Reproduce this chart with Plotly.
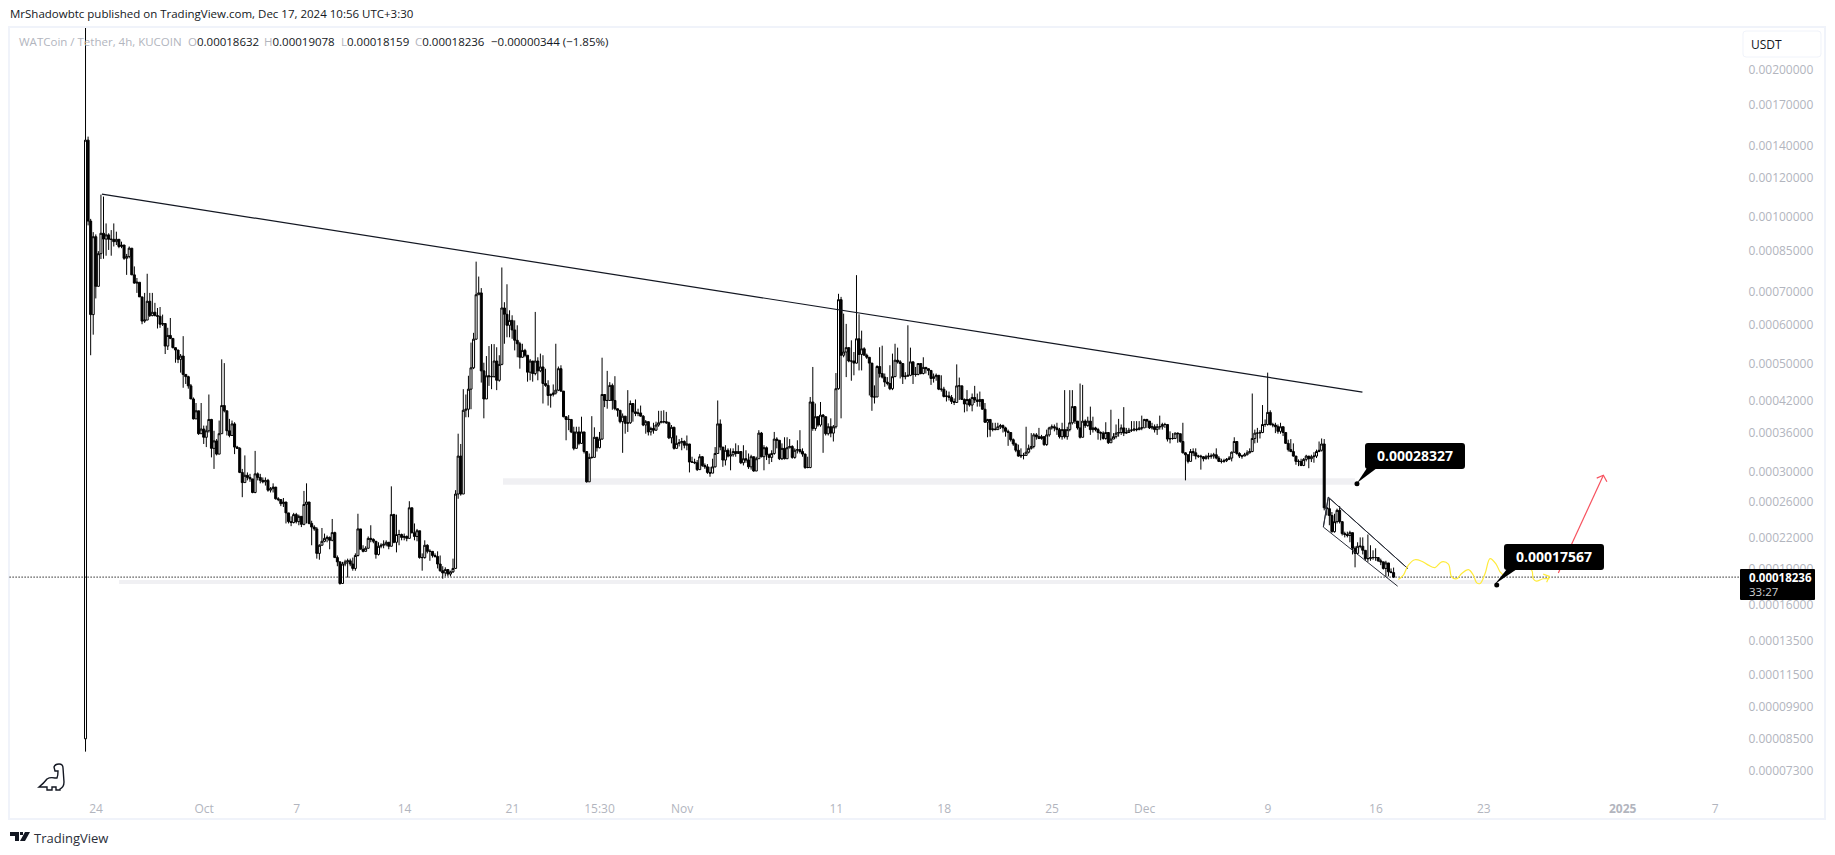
import pandas as pd
import plotly.graph_objects as go

# ---------- price data, in units of 0.00001 USDT, one row per ten 4h bars ----------
first_open_e5 = 8.5
closes_e5 = [
143.6,98,63,91,72,84,92.5,90,91.8,89.9,
89.9,88.9,89.9,86.9,87.5,82.2,82.9,86.2,76.0,73.1,
73.4,68.5,61.1,61.4,67.1,62.7,63.7,62.7,62.5,60.2,
60.4,54.3,57.1,56.3,53.9,53.3,51.0,51.8,47.5,47.0,
45.0,42.3,38.5,40.0,35.9,36.7,35.3,36.4,38.4,33.5,
34.7,32.6,35.9,41.0,40.0,36.4,35.6,37.6,33.7,33.5,
29.9,28.5,29.5,29.2,29.0,27.2,29.7,29.2,28.8,28.6,
28.8,27.5,27.7,27.9,26.4,26.3,25.8,26.0,24.7,23.7,
23.6,24.5,23.7,24.3,23.4,25.7,26.0,23.5,23.1,22.9,
20.4,21.2,21.6,21.9,22.0,21.7,22.5,20.0,19.6,17.7,
19.4,19.6,19.7,19.4,19.0,20.2,22.9,20.8,20.6,20.9,
21.9,21.8,21.6,20.3,21.1,21.2,21.3,21.5,21.1,24.5,
21.5,22.3,22.3,22.0,22.1,21.9,25.3,22.5,22.1,22.7,
20.0,20.0,21.2,20.6,20.6,20.2,20.1,19.4,18.8,18.6,
18.9,18.5,18.7,19.0,27.0,32.3,27.0,40.1,40.3,44.3,
49.0,56.1,69.2,69.8,48.3,42.3,47.2,47.0,47.0,50.6,
46.2,49.8,65.0,63.1,59.9,61.3,58.6,55.8,54.9,51.5,
53.2,52.0,48.0,50.6,47.7,50.6,48.3,49.2,45.5,45.1,
43.0,43.2,43.5,44.1,48.8,43.9,38.9,38.4,38.4,36.2,
33.5,36.2,34.3,36.2,33.0,28.6,32.1,32.1,35.3,33.6,
35.0,43.2,42.0,42.0,45.1,42.0,40.4,40.1,38.0,39.0,
37.7,37.8,41.4,39.8,39.5,39.6,39.0,37.4,38.0,36.2,
36.8,36.5,37.4,37.8,38.0,38.0,37.8,35.2,37.0,33.5,
34.3,34.4,34.6,34.0,34.2,31.4,31.4,31.3,30.3,32.2,
30.9,30.7,29.9,29.8,30.7,32.7,37.6,33.7,31.7,33.2,
32.3,32.5,33.0,32.7,33.0,31.3,31.9,31.7,30.7,32.2,
30.1,31.9,36.0,32.2,33.6,32.5,32.1,32.7,35.0,34.8,
31.9,33.5,31.9,33.6,33.8,32.1,33.2,33.3,33.0,32.6,
30.6,30.6,41.7,36.8,38.9,37.4,39.2,38.9,35.9,37.1,
36.0,37.1,44.4,67.6,52.0,52.8,53.9,50.6,50.6,50.1,
56.2,52.2,53.6,52.0,51.5,50.1,42.7,42.7,49.3,47.7,
46.9,45.8,45.5,44.4,47.0,50.8,50.4,50.0,47.0,47.1,
47.3,50.4,47.5,47.5,50.0,47.7,49.1,48.8,48.4,46.6,
47.0,47.3,44.3,44.3,42.8,42.9,42.6,41.8,41.6,45.0,
45.0,42.2,41.3,42.2,41.1,42.6,42.1,41.8,42.2,40.3,
37.9,38.4,36.6,36.7,36.6,37.1,37.3,36.9,36.3,36.1,
34.9,34.2,33.2,32.3,32.4,32.4,32.9,33.5,33.8,35.7,
35.4,35.1,35.4,34.1,35.7,36.9,37.1,36.9,36.6,35.4,
36.6,35.4,36.6,37.8,40.8,38.1,36.9,35.3,38.1,37.3,
38.1,36.6,36.9,36.6,36.1,36.0,35.1,36.1,34.4,35.0,
35.4,36.0,36.1,36.9,36.0,36.1,36.5,36.5,36.7,36.6,
36.9,36.9,38.4,38.1,36.9,37.1,36.6,37.1,37.1,37.5,
37.5,35.0,35.1,35.1,36.0,35.9,34.6,32.8,32.5,31.5,
33.0,32.8,32.3,32.3,32.2,31.9,32.2,32.3,32.3,32.5,
32.0,31.5,31.5,31.6,31.8,32.0,32.9,34.6,32.7,32.3,
32.3,32.5,32.8,33.0,35.1,36.0,36.0,36.1,37.5,37.5,
39.7,37.5,37.4,37.1,36.3,37.1,36.1,34.3,33.3,33.0,
32.3,31.5,31.5,30.9,31.8,32.3,31.9,32.2,32.3,33.0,
33.2,34.2,25.3,25.2,24.4,22.6,23.7,25.0,23.7,22.4,
22.3,22.2,22.5,20.9,20.4,21.1,21.1,20.7,19.9,19.9,
20.0,20.0,20.0,19.7,19.6,19.0,19.5,18.7,18.632,18.236,
]
highs_e5 = [
300,146,99,93,92,85,111,110,96.9,92.5,
93.9,96.9,93.2,89.9,88.9,87.5,83.9,86.9,86.2,79.1,
74.9,73.4,68.1,69.8,76.4,69.8,69.8,66.6,65.0,65.3,
63.0,60.4,59.2,62.0,56.3,53.9,53.3,52.3,56.9,47.5,
47.2,45.4,42.6,41.5,40.0,41.5,37.3,37.3,43.2,38.5,
36.4,35.0,38.2,51.0,50.1,40.0,38.5,38.2,37.9,33.9,
33.7,30.4,32.4,29.9,29.7,29.0,33.1,29.9,29.7,29.2,
29.2,29.0,27.9,28.4,27.9,26.6,26.2,26.5,26.0,24.7,
24.3,24.7,24.7,24.5,24.3,27.4,28.4,25.4,23.8,23.3,
23.1,21.3,23.0,22.4,22.2,22.1,24.0,22.6,20.2,19.4,
19.6,19.8,19.9,19.9,20.0,20.4,24.6,22.9,21.2,21.1,
22.1,23.3,21.9,21.5,21.5,21.4,21.7,21.7,21.5,28.0,
24.6,24.5,22.8,22.4,22.4,22.2,26.1,25.3,23.5,22.9,
22.7,20.4,21.7,21.3,20.8,20.6,20.4,20.6,20.2,19.2,
19.1,18.7,18.8,19.9,27.5,35.9,34.2,44.3,43.2,47.2,
55.2,57.8,80.9,75.4,71.4,50.2,51.8,54.3,54.8,54.8,
54.0,52.0,78.7,66.8,72.7,64.3,62.8,61.3,59.9,55.4,
54.9,53.6,52.0,51.1,50.6,63.8,51.5,52.4,52.0,48.8,
46.2,43.4,45.3,54.9,49.3,49.6,43.9,38.9,39.2,38.4,
37.1,37.1,37.1,38.9,36.2,33.0,32.7,39.0,37.0,35.3,
36.2,51.4,43.2,48.3,45.8,45.5,47.1,40.4,40.1,39.5,
39.0,44.1,42.0,41.4,42.2,40.4,41.0,39.2,38.3,38.0,
37.1,37.8,38.0,40.0,40.0,40.1,39.8,38.0,37.4,37.1,
35.6,35.0,35.2,34.8,35.6,34.2,32.2,31.9,31.7,32.6,
32.3,31.2,31.1,30.7,31.9,33.7,42.0,38.4,33.7,34.0,
33.5,33.5,33.5,34.3,34.0,33.0,34.0,33.2,32.7,32.5,
32.2,32.2,36.5,36.2,34.0,33.8,32.7,33.2,36.2,35.3,
34.8,34.3,35.3,35.3,35.0,34.0,33.5,34.8,36.5,33.5,
32.7,32.2,42.7,49.2,41.4,38.9,41.7,39.4,38.9,37.7,
38.6,37.4,47.8,69.5,68.5,63.3,60.3,53.9,55.8,52.8,
75.9,63.1,58.4,54.0,52.4,51.5,50.1,45.1,49.6,54.0,
54.4,47.7,46.9,49.6,52.4,54.9,53.9,50.8,50.0,48.0,
59.9,53.9,50.4,49.2,50.0,49.2,51.5,49.2,48.8,48.4,
47.7,47.7,47.3,47.3,44.8,44.0,43.8,43.1,42.4,49.8,
46.8,45.0,42.4,44.1,42.4,43.4,45.0,43.4,43.8,42.2,
41.5,38.5,38.4,37.8,37.8,37.8,37.6,37.5,37.1,36.6,
35.4,35.1,34.4,34.1,33.5,32.8,37.1,34.1,36.0,36.0,
36.0,36.9,35.7,35.4,36.6,37.1,37.5,37.5,37.8,36.9,
37.8,44.1,37.1,44.1,44.1,40.8,37.8,45.5,45.2,38.4,
38.9,40.8,38.9,37.1,36.9,36.3,36.3,37.9,36.1,40.2,
36.0,37.5,38.5,37.5,40.7,36.9,36.9,38.1,38.1,38.1,
38.1,39.1,38.5,38.5,38.1,37.8,37.5,37.6,39.1,37.8,
37.8,37.5,36.3,36.0,36.1,36.1,35.9,37.8,32.9,32.5,
33.4,33.5,33.5,32.5,32.5,32.3,32.5,32.8,32.7,32.8,
33.5,32.3,31.9,31.9,32.0,32.3,33.0,35.3,34.6,32.9,
32.5,32.8,33.2,33.5,43.4,36.6,36.9,36.5,41.1,38.4,
47.9,40.1,37.8,37.8,37.5,37.8,37.1,36.1,34.9,35.0,
34.3,32.3,31.8,31.9,32.0,32.5,32.3,32.5,32.9,33.3,
34.6,35.1,35.0,25.4,26.4,24.8,24.6,25.2,25.5,23.7,
22.6,22.6,22.7,21.7,21.1,21.5,22.0,22.0,20.7,22.3,
21.2,20.7,20.9,20.0,19.9,19.6,19.7,19.5,19.0,19.078,
]
lows_e5 = [
8.0,96,52,57.3,68,76,81.9,82,83.2,85.5,
83.2,86.9,87.5,86.2,86.2,81.6,76.0,82.2,76.0,72.9,
69.8,68.5,60.2,60.6,62.3,62.3,62.5,62.5,59.0,59.2,
59.7,52.3,53.3,56.1,53.7,50.2,50.1,47.9,44.6,45.4,
44.4,42.3,38.4,38.8,35.7,35.9,34.2,33.7,36.1,32.1,
30.4,32.4,32.6,35.9,39.7,35.6,35.3,35.6,32.6,33.5,
29.8,26.6,28.6,28.8,28.6,27.1,27.1,28.8,28.4,28.4,
28.1,27.3,27.2,27.2,26.3,26.1,25.5,25.4,23.5,23.5,
23.2,23.5,23.5,23.3,23.1,23.3,23.5,23.4,21.2,22.7,
19.9,19.8,21.2,21.5,21.5,20.8,21.6,20.0,19.2,17.6,
18.0,19.2,18.2,19.2,18.8,18.8,20.1,20.8,20.5,20.7,
20.9,21.5,21.4,19.9,20.2,20.9,20.9,21.1,20.8,21.1,
21.4,20.5,21.2,21.7,21.7,21.6,22.2,22.4,21.7,21.6,
19.9,18.8,19.9,20.4,19.7,20.0,20.0,19.0,18.7,18.1,
18.3,18.3,18.3,18.6,19.2,26.4,26.8,30.2,38.8,38.8,
40.3,48.7,55.9,69.2,45.7,38.6,42.3,45.0,44.3,46.8,
44.1,45.9,49.6,54.9,56.6,56.6,56.2,53.2,51.5,48.8,
51.4,51.5,45.9,46.2,45.9,47.3,46.2,48.0,41.4,44.8,
41.0,40.6,42.8,43.2,43.9,43.7,38.8,34.8,36.5,36.0,
33.2,33.5,34.0,34.2,32.7,28.5,28.8,31.9,32.1,33.0,
33.5,34.9,40.7,40.4,41.9,40.2,40.1,38.9,37.7,32.8,
35.9,36.2,37.6,38.0,39.0,39.0,38.9,37.2,35.9,35.6,
35.6,35.9,36.4,37.1,37.8,37.7,37.6,35.0,34.3,33.3,
33.5,33.8,33.2,33.5,33.2,29.9,31.3,31.1,30.1,30.4,
30.7,30.4,29.7,29.3,30.2,30.6,33.0,33.2,30.7,30.9,
32.1,30.2,32.2,32.2,32.7,31.1,30.9,31.3,30.4,30.3,
30.0,30.2,31.9,32.1,30.2,31.7,31.1,31.4,32.5,33.5,
31.7,31.7,31.8,32.2,33.5,31.9,31.9,32.7,32.7,32.2,
30.4,30.5,30.5,36.4,36.4,37.1,37.1,32.8,35.6,35.6,
35.3,34.6,36.8,44.2,38.6,51.5,46.9,50.3,46.1,47.3,
50.0,48.4,48.4,52.0,51.1,43.0,40.0,41.4,42.7,46.8,
46.6,44.8,45.1,44.1,44.1,46.9,50.0,46.6,45.4,46.4,
47.0,47.1,45.4,47.0,47.3,47.5,47.5,47.7,47.3,45.2,
45.7,46.1,44.1,43.8,42.6,41.8,42.0,41.3,41.1,41.6,
42.1,42.1,39.7,39.9,40.8,39.9,41.5,40.8,40.8,40.2,
37.8,35.3,35.4,36.3,36.5,36.6,36.7,36.1,35.4,33.9,
34.6,33.9,32.9,32.2,32.0,31.8,32.5,32.7,33.3,33.5,
34.9,35.0,34.9,33.9,33.9,35.4,36.6,36.3,35.7,35.1,
34.9,35.1,34.9,36.3,37.5,37.6,36.6,35.1,35.4,36.9,
37.1,35.7,36.1,36.3,34.9,34.8,34.9,34.9,34.2,34.4,
35.0,35.1,35.4,35.7,35.5,35.9,36.1,36.2,36.3,36.3,
36.5,36.5,36.9,36.9,36.7,36.6,36.1,35.7,36.6,36.6,
36.9,34.6,34.3,34.9,35.0,34.4,34.4,32.7,28.8,31.2,
31.5,32.3,31.8,32.0,30.3,31.5,31.8,31.8,31.9,31.9,
31.8,31.4,31.2,31.3,31.4,31.7,31.5,32.8,32.5,32.0,
31.9,32.3,32.4,32.7,32.9,34.3,34.4,35.1,36.0,37.1,
37.3,37.3,37.0,36.0,35.9,35.9,35.5,34.2,33.0,32.9,
32.2,31.0,30.8,30.8,30.8,31.5,30.5,31.4,31.3,32.0,
32.9,33.0,25.0,24.4,23.3,22.5,22.5,23.5,23.5,22.2,
22.0,22.0,21.5,20.3,19.1,20.3,20.9,20.3,19.7,19.6,
19.7,19.8,19.7,19.6,19.3,18.9,18.3,18.3,18.6,18.159,
]

# ---------- axis labels ----------
price_ticks = [0.002,0.0017,0.0014,0.0012,0.001,0.00085,0.0007,0.0006,0.0005,0.00042,0.00036,
               0.0003,0.00026,0.00022,0.00019,0.00016,0.000135,0.000115,0.000099,0.000085,0.000073]
time_tick_dates = ["2024-09-24","2024-10-01","2024-10-07","2024-10-14","2024-10-21","2024-10-26 15:30",
                   "2024-11-01","2024-11-11","2024-11-18","2024-11-25","2024-12-01","2024-12-09",
                   "2024-12-16","2024-12-23","2025-01-01","2025-01-07"]
time_tick_labels = ["24","Oct","7","14","21","15:30","Nov","11","18","25","Dec","9","16","23","<b>2025</b>","7"]

# ---------- drawings ----------
last_price_e5 = 18.236
trend_dates = ["2024-09-24 09:00","2024-12-15 03:00"]
trend_e5 = [111.3,43.7]
zone_upper_dates, zone_upper_e5 = ["2024-10-20 09:20","2024-12-14 15:20"], [28.2,29.1]
zone_lower_dates, zone_lower_e5 = ["2024-09-25 11:45","2024-12-24 00:00"], [17.65,18.0]
channel_days = [72.59,72.91,78.06,72.91,72.59,77.41]
channel_e5 = [23.1,26.6,19.0,26.6,23.1,17.47]
path_days = [77.45,77.78,78.1,78.53,78.97,79.4,79.83,80.27,80.7,80.91,81.24,81.56,82.0,82.32,82.54,
             82.76,83.08,83.4,83.79,84.05,84.31,84.7,85.45,86.1,86.2,86.4,86.85,87.25]
path_e5 = [18.04,18.41,19.3,19.8,19.66,19.3,19.08,19.6,19.4,18.26,18.1,18.55,18.9,18.4,17.75,
           17.7,18.55,19.9,19.4,18.7,18.4,18.7,19.14,18.85,18.1,17.9,18.1,18.1]
path_head_days, path_head_e5 = [86.85,87.25,87.07], [18.5,18.3,17.8]
up_days, up_e5 = [87.83,90.75], [18.6,29.5]
up_head_days, up_head_e5 = [90.32,90.75,90.98], [29.1,29.5,28.6]
callout_dates = ["2024-12-14 18:30","2024-12-23 20:00"]
callout_e5 = [28.327,17.567]
callout_labels = ["0.00028327","0.00017567"]

# ---------- layout geometry (page pixels) ----------
L, R, T, B = 9, 1740, 28, 790
W, H = 1835, 855
def pxx(x): return (x - L) / (R - L)
def pxy(y): return 1 - (y - T) / (B - T)
def pt(x, y): return f"{pxx(x):.5f},{pxy(y):.5f}"
def poly(points, close=True):
    return "M " + " L ".join(pt(x, y) for x, y in points) + (" Z" if close else "")
def rrect(x0, y0, x1, y1, r):
    return ("M " + pt(x0+r, y0) + " L " + pt(x1-r, y0) + " Q " + pt(x1, y0) + " " + pt(x1, y0+r) +
            " L " + pt(x1, y1-r) + " Q " + pt(x1, y1) + " " + pt(x1-r, y1) +
            " L " + pt(x0+r, y1) + " Q " + pt(x0, y1) + " " + pt(x0, y1-r) +
            " L " + pt(x0, y0+r) + " Q " + pt(x0, y0) + " " + pt(x0+r, y0) + " Z")

def day2date(days):
    return [pd.Timestamp("2024-10-01") + pd.to_timedelta(d, unit="D") for d in days]
def e5(vals):
    return [v * 1e-5 for v in vals]

# ---------- build OHLC ----------
opens_e5 = [first_open_e5] + closes_e5[:-1]
highs_fix = [max(h, o, c) for h, o, c in zip(highs_e5, opens_e5, closes_e5)]
lows_fix = [min(l, o, c) for l, o, c in zip(lows_e5, opens_e5, closes_e5)]
times = pd.date_range("2024-09-23 07:30", periods=len(closes_e5), freq="4h")

fig = go.Figure()
fig.add_trace(go.Candlestick(
    x=times, open=e5(opens_e5), high=e5(highs_fix), low=e5(lows_fix), close=e5(closes_e5),
    increasing=dict(line=dict(color="#000000", width=1), fillcolor="#ffffff"),
    decreasing=dict(line=dict(color="#000000", width=1), fillcolor="#000000"),
    whiskerwidth=0, hoverinfo="skip", showlegend=False))

def line(x, y, color, width, dash="solid", shape="linear"):
    fig.add_trace(go.Scatter(x=x, y=e5(y), mode="lines", hoverinfo="skip", showlegend=False,
                             line=dict(color=color, width=width, dash=dash, shape=shape)))

line(["2024-09-18 00:00","2025-01-09 00:00"], [last_price_e5, last_price_e5], "#000000", 1.2, "1px,2px")
line(trend_dates, trend_e5, "#131722", 1.2)
line(day2date(channel_days), channel_e5, "#2a2e39", 1)
line(day2date(path_days), path_e5, "#ffeb3b", 1.2, shape="spline")
line(day2date(path_head_days), path_head_e5, "#ffeb3b", 1.2)
line(day2date(up_days), up_e5, "#f7525f", 1.2)
line(day2date(up_head_days), up_head_e5, "#f7525f", 1.2)
fig.add_trace(go.Scatter(x=callout_dates, y=e5(callout_e5), mode="markers", hoverinfo="skip", showlegend=False,
                         marker=dict(color="#000000", size=5)))

shapes = []
for d, v in ((zone_upper_dates, zone_upper_e5), (zone_lower_dates, zone_lower_e5)):
    shapes.append(dict(type="rect", xref="x", yref="y", layer="below",
                       x0=d[0], x1=d[1], y0=v[0]*1e-5, y1=v[1]*1e-5,
                       fillcolor="#f0f0f3", line=dict(width=0)))
paper = dict(type="path", xref="paper", yref="paper", layer="above")
# pane frame
shapes.append(dict(type="path", xref="paper", yref="paper", layer="below",
                   path=poly([(9,27),(1825,27),(1825,819),(9,819)]),
                   line=dict(color="#f0f3fa", width=2), fillcolor="rgba(0,0,0,0)"))
# currency box
shapes.append(dict(paper, path=rrect(1743,31,1821,57,3), line=dict(color="#f0f3fa", width=1), fillcolor="#ffffff"))
# last price tag
shapes.append(dict(paper, path=rrect(1740,569,1815,600,1), line=dict(width=0), fillcolor="#000000"))
# callouts
for box, wedge in (((1365,443,1465,469), [(1367,468),(1377,468),(1357,483)]),
                   ((1504,544,1604,570), [(1507,569),(1517,569),(1495,584)])):
    shapes.append(dict(paper, path=rrect(*box, 3), line=dict(width=0), fillcolor="#000000"))
    shapes.append(dict(paper, path=poly(wedge), line=dict(width=0), fillcolor="#000000"))
# watermark dinosaur
dino = ("M " + pt(39,787) + " Q " + pt(44,783) + " " + pt(47,779) + " Q " + pt(50,777) + " " + pt(55,778) +
        " L " + pt(57,778) + " Q " + pt(58,776) + " " + pt(58,771) + " L " + pt(55,771) + " L " + pt(54,767) +
        " Q " + pt(55,764) + " " + pt(59,764) + " Q " + pt(63,764) + " " + pt(63,768) + " L " + pt(64,782) +
        " Q " + pt(64,787) + " " + pt(60,789) + " L " + pt(60,790) + " L " + pt(56,790) + " L " + pt(56,787) +
        " L " + pt(52,787) + " L " + pt(52,790) + " L " + pt(47,790) + " L " + pt(47,787) + " Z")
shapes.append(dict(paper, path=dino, line=dict(color="#131722", width=1.4), fillcolor="rgba(0,0,0,0)"))
# TradingView logo
logo = (poly([(10,832),(19,832),(19,841),(15,841),(15,836),(10,836)]) + " " +
        poly([(25,832),(30,832),(25,841),(20,841)]) + " " +
        poly([(20,832),(23,832),(23,835),(20,835)]))
shapes.append(dict(paper, path=logo, line=dict(width=0), fillcolor="#131722"))

TXT = "#131722"
GREY = "#b2b5be"
FONT = "Open Sans"
def note(x, y, text, size=12, color=TXT, family=FONT, anchor="left"):
    return dict(xref="paper", yref="paper", x=pxx(x), y=pxy(y), text=text, showarrow=False,
                xanchor=anchor, yanchor="middle", align="left", borderpad=0,
                font=dict(family=family, size=size, color=color))
annotations = [
    note(9, 14, "MrShadowbtc published on TradingView.com, Dec 17, 2024 10:56 UTC+3:30", 11.5),
    note(18, 41, "WATCoin / Tether, 4h, KUCOIN", 11.5, GREY),
    note(187, 41, f'<span style="color:{GREY}">O</span>0.00018632', 11.5),
    note(263, 41, f'<span style="color:{GREY}">H</span>0.00019078', 11.5),
    note(340, 41, f'<span style="color:{GREY}">L</span>0.00018159', 11.5),
    note(414, 41, f'<span style="color:{GREY}">C</span>0.00018236', 11.5),
    note(490, 41, "\u22120.00000344 (\u22121.85%)", 11.5),
    note(1750, 44, "USDT", 12),
    note(1748, 577, "<b>0.00018236</b>", 11.5, "#ffffff"),
    note(1748, 591, "33:27", 11.5, "#cfd0d4"),
    note(1415, 455, f"<b>{callout_labels[0]}</b>", 14, "#ffffff", anchor="center"),
    note(1554, 556, f"<b>{callout_labels[1]}</b>", 14, "#ffffff", anchor="center"),
    note(33, 838, "TradingView", 13, "#2a2e39"),
]

fig.update_layout(
    width=W, height=H, autosize=False,
    margin=dict(l=L, r=W-R, t=T, b=H-B, pad=0),
    paper_bgcolor="#ffffff", plot_bgcolor="#ffffff", showlegend=False, hovermode=False,
    font=dict(family=FONT, size=12, color=GREY),
    boxgap=0.22, boxgroupgap=0,
    shapes=shapes, annotations=annotations,
    xaxis=dict(type="date", range=["2024-09-18 08:24","2025-01-08 14:40"], rangeslider=dict(visible=False),
               showgrid=False, zeroline=False, showline=False, fixedrange=True,
               tickmode="array", tickvals=time_tick_dates, ticktext=time_tick_labels,
               ticks="outside", ticklen=8, tickcolor="rgba(0,0,0,0)",
               tickfont=dict(family=FONT, size=12, color=GREY)),
    yaxis=dict(type="log", range=[-4.1756,-2.6129], side="right",
               showgrid=False, zeroline=False, showline=False, fixedrange=True,
               tickmode="array", tickvals=price_ticks, ticktext=[f"{v:.8f}" for v in price_ticks],
               ticks="outside", ticklen=5, tickcolor="rgba(0,0,0,0)",
               tickfont=dict(family=FONT, size=12, color=GREY)),
)

fig.write_html("out.html", config=dict(displayModeBar=False),
               post_script="document.body.style.margin='0';")
